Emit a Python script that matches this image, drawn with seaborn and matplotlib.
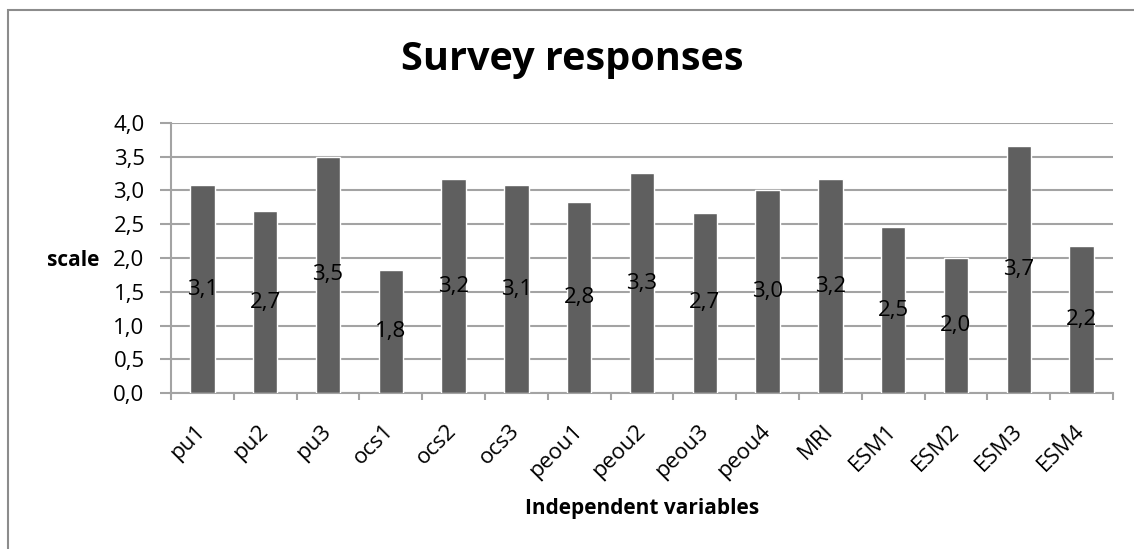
import matplotlib
matplotlib.use("Agg")
import matplotlib.pyplot as plt
from matplotlib.patches import Rectangle
from matplotlib.ticker import FuncFormatter, MultipleLocator
import seaborn as sns
import pandas as pd

variables = ["pu1", "pu2", "pu3", "ocs1", "ocs2", "ocs3", "peou1", "peou2",
             "peou3", "peou4", "MRI", "ESM1", "ESM2", "ESM3", "ESM4"]
scores = [3.08, 2.69, 3.50, 1.83, 3.17, 3.08, 2.83, 3.26,
          2.67, 3.00, 3.17, 2.46, 2.00, 3.66, 2.17]

df = pd.DataFrame({"variable": variables, "score": scores})

sns.set_style("white")
plt.rcParams["font.family"] = ["Open Sans", "DejaVu Sans"]
plt.rcParams["text.color"] = "black"
plt.rcParams["xtick.color"] = "black"
plt.rcParams["ytick.color"] = "black"
plt.rcParams["axes.labelcolor"] = "black"

GRID = "#a3a3a3"
BAR = "#5f5f5f"


def comma(v):
    return f"{v:.1f}".replace(".", ",")


fig = plt.figure(figsize=(11.34, 5.49), dpi=100)
ax = fig.add_axes([171 / 1134, 1 - 393.3 / 549, (1113 - 171) / 1134, (393.3 - 122.7) / 549])

sns.barplot(data=df, x="variable", y="score", color=BAR, saturation=1,
            width=0.39, ax=ax, zorder=3)

ax.set_xlim(-0.5, len(variables) - 0.5)
ax.set_ylim(0, 4.0)
ax.yaxis.set_major_locator(MultipleLocator(0.5))
ax.yaxis.set_major_formatter(FuncFormatter(lambda v, _: comma(v)))
ax.grid(axis="y", color=GRID, linewidth=1.5, zorder=0)
ax.grid(axis="x", visible=False)

for side in ("top", "right"):
    ax.spines[side].set_visible(False)
for side in ("left", "bottom"):
    ax.spines[side].set_color(GRID)
    ax.spines[side].set_linewidth(1.5)

# value labels centred inside each bar
for i, v in enumerate(scores):
    ax.text(i, v / 2, comma(v), ha="center", va="center",
            fontsize=16, color="black", zorder=4)

# y ticks
ax.tick_params(axis="y", which="major", length=8, width=1.5, color=GRID,
               direction="out", pad=11, labelsize=16, left=True)

# x: category boundaries carry the tick marks, labels sit at the centres
ax.set_xticks([i - 0.5 for i in range(len(variables) + 1)], minor=True)
ax.tick_params(axis="x", which="minor", length=5, width=1.5, color=GRID,
               direction="out", bottom=True)
ax.tick_params(axis="x", which="major", length=0, pad=25, labelsize=16)
for lbl in ax.get_xticklabels():
    lbl.set_rotation(45)
    lbl.set_ha("right")
    lbl.set_va("center")
    lbl.set_rotation_mode("anchor")

ax.set_ylabel("scale", rotation=0, fontsize=15, fontweight="bold",
              ha="right", va="center")
ax.yaxis.set_label_coords(-0.0764, 0.4926)
ax.set_xlabel("Independent variables", fontsize=15, fontweight="bold", va="center")
ax.xaxis.set_label_coords(0.5, -0.424)

fig.text(572 / 1134, 1 - 70 / 549, "Survey responses", ha="center", va="baseline",
         fontsize=28.5, fontweight="bold")

# chart frame
fig.patches.append(Rectangle((8 / 1134, -0.2), 1.2, 1.2 - 10.5 / 549,
                             transform=fig.transFigure, fill=False,
                             edgecolor="#8c8c8c", linewidth=1.5))

fig.savefig("out.png", dpi=100)
